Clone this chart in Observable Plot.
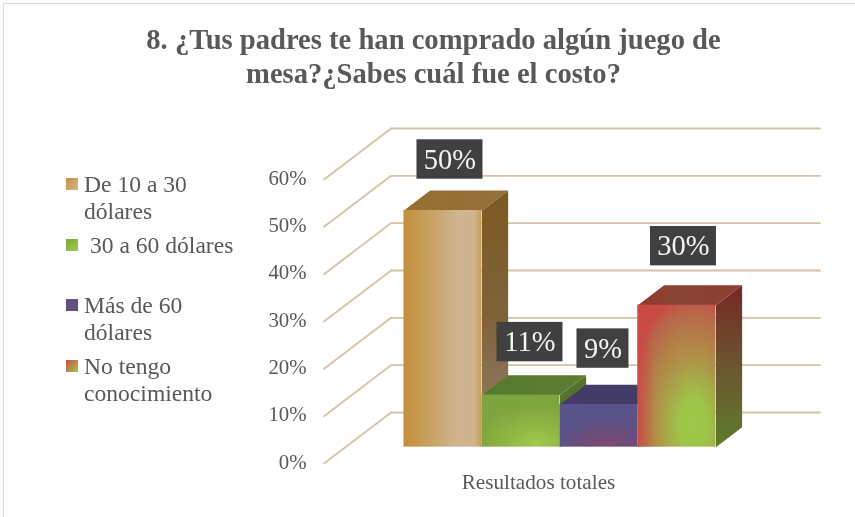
<!DOCTYPE html>
<html lang="es">
<head>
<meta charset="utf-8">
<script src="https://cdn.jsdelivr.net/npm/d3@7"></script>
<script src="https://cdn.jsdelivr.net/npm/@observablehq/plot@0.6"></script>
<style>
  html, body { margin: 0; padding: 0; background: #fff; }
  #page { position: relative; width: 855px; height: 517px; overflow: hidden; font-family: "Liberation Serif", serif; filter: blur(0.4px); }
  #frame { position: absolute; left: 3px; top: 3px; width: 860px; height: 530px; border: 1.5px solid #dcdcdc; pointer-events: none; }
  #title { position: absolute; left: 0; top: 23px; width: 867px; margin: 0; text-align: center; font-size: 28.6px; line-height: 34px; font-weight: bold; color: #595959; }
  #chart { position: absolute; left: 0; top: 110px; }
  #chart svg { display: block; }
  .legend-item { position: absolute; left: 66px; white-space: pre; font-size: 23.6px; line-height: 27px; color: #595959; padding-left: 18px; }
  .legend-swatch { position: absolute; left: 0; top: 7px; width: 12px; height: 12px; }
</style>
</head>
<body>
<div id="page">
  <div id="frame"></div>
  <h1 id="title">8. ¿Tus padres te han comprado algún juego de<br>mesa?¿Sabes cuál fue el costo?</h1>
  <div id="legend"></div>
  <div id="chart"></div>
</div>
<script>
// Data
const categories = ["De 10 a 30\ndólares", " 30 a 60 dólares", "Más de 60\ndólares", "No tengo\nconocimiento"];
const values = [50, 11, 9, 30];
const valueLabels = ["50%", "11%", "9%", "30%"];
const yTicks = [0, 10, 20, 30, 40, 50, 60];
const yTickLabels = ["0%", "10%", "20%", "30%", "40%", "50%", "60%"];
const axisTitle = "Resultados totales";

// Layout of the pseudo-3D projection (in scale units)
const xDomain = [-0.75, 4.75], yDomain = [0, 60];
const depthX = 0.86, depthY = 10.78;       // shift of the back wall
const barT0 = 0.32, barT1 = 0.71;          // front and back of bars along the depth
const pxX = 1 / 78, pxY = 60 / 284;        // one pixel in scale units
const labelNudgeX = [7, 9, 4, 6.5], labelNudgeY = [51, 53, 56, 59];
const legendTops = [171, 232, 292, 353];
const lineColor = "#d6c2a4", textColor = "#595959";

const X = (u, t) => u + t * depthX;
const Y = (v, t) => v + t * depthY;
const pt = (u, v, t) => ({ x: X(u, t), y: Y(v, t) });

const stops = a => a.map(([o, c, op]) => `<stop offset="${o}" stop-color="${c}"${op === undefined ? "" : ` stop-opacity="${op}"`}/>`).join("");
const linear = (id, horizontal, s) =>
  `<linearGradient id="${id}" x1="0" y1="0" x2="${horizontal ? 1 : 0}" y2="${horizontal ? 0 : 1}">${stops(s)}</linearGradient>`;
const radial = (id, cx, cy, r, s) =>
  `<radialGradient id="${id}" cx="${cx}" cy="${cy}" r="${r}">${stops(s)}</radialGradient>`;

const gradients = [
  linear("front0", true, [[0, "#c48f3c"], [0.35, "#c8a263"], [0.7, "#d0b592"], [0.92, "#cfb28a"], [1, "#c89c55"]]),
  linear("side0", false, [[0, "#7c5a22"], [0.5, "#80623a"], [1, "#93836e"]]),
  linear("top0", true, [[0, "#96702f"], [1, "#936f3b"]]),
  radial("front1", 0.7, 0.95, 0.75, [[0, "#a0c94b"], [0.5, "#8fb644"], [1, "#7fa53f"]]),
  linear("side1", false, [[0, "#54722a"], [1, "#54722a"]]),
  linear("top1", true, [[0, "#567a2c"], [1, "#5d7c33"]]),
  radial("front2", 0.62, 0.95, 0.65, [[0, "#7c4a72"], [0.55, "#6a4d7c"], [1, "#5a5389"]]),
  linear("side2", false, [[0, "#3c3560"], [1, "#3c3560"]]),
  linear("top2", true, [[0, "#423c68"], [1, "#443c66"]]),
  radial("front3", 0.72, 0.85, 0.92, [[0, "#9ec84a"], [0.2, "#9dc44a"], [0.5, "#ae9548"], [0.86, "#b8684a"], [1, "#c94a44"]]),
  linear("edge3", true, [[0, "#cb4a44", 0.9], [0.22, "#cb4a44", 0]]),
  linear("side3", false, [[0, "#762824"], [0.5, "#6b5530"], [1, "#5f7d2c"]]),
  linear("top3", true, [[0, "#96352f"], [0.3, "#8a4433"], [1, "#8c3f30"]])
].join("");

const swatchCss = [
  "linear-gradient(135deg,#c6933f,#d0b592)",
  "linear-gradient(135deg,#7fa53f,#a0c94b)",
  "linear-gradient(135deg,#5a5389,#6c4d78)",
  "linear-gradient(135deg,#cb4a44,#9ec84a)"
];

// Legend
const legend = document.getElementById("legend");
categories.forEach((c, i) => {
  const item = document.createElement("div");
  item.className = "legend-item";
  item.style.top = legendTops[i] + "px";
  item.textContent = c;
  const sw = document.createElement("span");
  sw.className = "legend-swatch";
  sw.style.background = swatchCss[i];
  item.appendChild(sw);
  legend.appendChild(item);
});

// Marks
const defs = () => {
  const d = document.createElementNS("http://www.w3.org/2000/svg", "defs");
  d.innerHTML = gradients;
  return d;
};

const wallLeft = yTicks.flatMap(v => [
  { v, ...pt(xDomain[0], v, 0) },
  { v, ...pt(xDomain[0], v, 1) }
]);
const wallBack = yTicks.flatMap(v => [
  { v, ...pt(xDomain[0], v, 1) },
  { v, ...pt(xDomain[1], v, 1) }
]);

const barMarks = values.flatMap((value, i) => {
  const side = [pt(i + 1, 0, barT0), pt(i + 1, value, barT0), pt(i + 1, value, barT1), pt(i + 1, 0, barT1)];
  const top = [pt(i, value, barT0), pt(i + 1, value, barT0), pt(i + 1, value, barT1), pt(i, value, barT1)];
  const frontOpts = fill => ({
    x1: () => X(i, barT0), x2: () => X(i + 1, barT0),
    y1: () => Y(0, barT0), y2: d => Y(d.value, barT0),
    fill
  });
  const marks = [
    Plot.line(side, { x: "x", y: "y", fill: `url(#side${i})`, stroke: "none" }),
    Plot.line(top, { x: "x", y: "y", fill: `url(#top${i})`, stroke: "none" }),
    Plot.rect([{ value }], frontOpts(`url(#front${i})`))
  ];
  if (i === 3) marks.push(Plot.rect([{ value }], frontOpts("url(#edge3)")));
  return marks;
});

const labels = values.map((value, i) => {
  const cx = X(i + 0.5, barT0) + labelNudgeX[i] * pxX;
  const cy = Y(value, barT0) + labelNudgeY[i] * pxY;
  const w = (24 + 14 * valueLabels[i].length) * pxX / 2;
  const h = 19.7 * pxY;
  return { label: valueLabels[i], cx, cy, w, h };
});

const chart = Plot.plot({
  width: 855,
  height: 407,
  marginLeft: 323.5,
  marginRight: 102.5,
  marginTop: 69,
  marginBottom: 54,
  style: { background: "transparent", fontFamily: "'Liberation Serif', serif", overflow: "visible" },
  x: { domain: xDomain, axis: null },
  y: { domain: yDomain },
  marks: [
    defs,
    Plot.axisY(yTicks, {
      anchor: "left",
      tickSize: 0,
      tickPadding: 17.5,
      tickFormat: v => yTickLabels[yTicks.indexOf(v)],
      fontSize: 20.8,
      fill: textColor,
      label: null,
      dy: -1.5
    }),
    Plot.line(wallLeft, { x: "x", y: "y", z: "v", stroke: lineColor, strokeWidth: 1.8 }),
    Plot.line(wallBack, { x: "x", y: "y", z: "v", stroke: lineColor, strokeWidth: 1.8 }),
    ...barMarks,
    Plot.rect(labels, {
      x1: d => d.cx - d.w, x2: d => d.cx + d.w,
      y1: d => d.cy - d.h, y2: d => d.cy + d.h,
      fill: "#404040"
    }),
    Plot.text(labels, {
      x: "cx", y: "cy", text: "label",
      fontSize: 28.5, fill: "#f4f4f4"
    }),
    Plot.text([axisTitle], {
      x: () => 2,
      frameAnchor: "bottom",
      dy: 25,
      text: d => d,
      fontSize: 21.2,
      fill: textColor
    })
  ]
});
document.getElementById("chart").appendChild(chart);
</script>
</body>
</html>
